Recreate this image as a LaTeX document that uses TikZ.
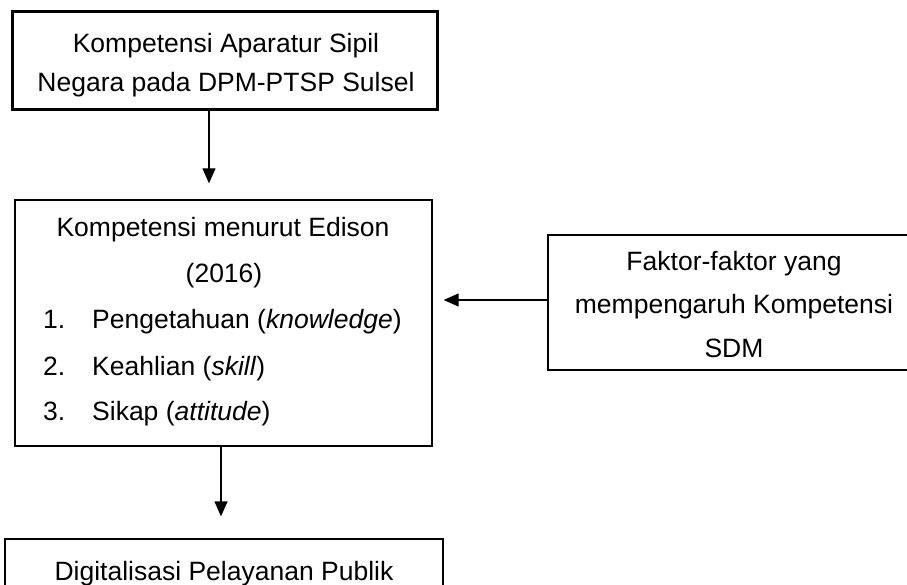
\documentclass[tikz,border=0pt]{standalone}
\usepackage{fontspec}
\setmainfont{Liberation Sans}
\usetikzlibrary{arrows.meta}
\begin{document}
\begin{tikzpicture}[x=1pt,y=-1pt,
  box/.style={draw, rectangle, line width=1.3pt, inner sep=0pt},
  lbl/.style={anchor=base, font=\fontsize{26.5}{30}\selectfont, inner sep=0pt},
  lblw/.style={lbl, anchor=base west},
  arr/.style={line width=1.3pt, -{Triangle[length=15pt,width=13pt]}}]
\clip (0,0) rectangle (907,585);
% boxes
\node[box, line width=3pt, minimum width=425pt, minimum height=98pt] (top) at (224.5,61) {};
\node[box, minimum width=417pt, minimum height=246pt] (mid) at (223.5,323) {};
\node[box, minimum width=377pt, minimum height=135pt] (right) at (736.5,302.5) {};
\node[box, minimum width=438pt, minimum height=71pt] (bot) at (224,574.5) {};
% texts
\node[lbl] (t1) at (226,53) {Kompetensi Aparatur Sipil};
\node[lbl] (t2) at (226,92) {Negara pada DPM-PTSP Sulsel};
\node[lbl] (m1) at (223,237) {Kompetensi menurut Edison};
\node[lbl] (m2) at (224,283) {(2016)};
\node[lblw] (n1) at (43,328) {1.};
\node[lblw] (l1) at (92,328) {Pengetahuan (\textit{knowledge})};
\node[lblw] (n2) at (43,375) {2.};
\node[lblw] (l2) at (92,375) {Keahlian (\textit{skill})};
\node[lblw] (n3) at (43,420) {3.};
\node[lblw] (l3) at (92,420) {Sikap (\textit{attitude})};
\node[lbl] (r1) at (734,270) {Faktor-faktor yang};
\node[lbl] (r2) at (734,313) {mempengaruh Kompetensi};
\node[lbl] (r3) at (734,357) {SDM};
\node[lbl] (b1) at (224,580) {Digitalisasi Pelayanan Publik};
% connectors
\coordinate (c1) at (209,0);
\coordinate (c2) at (0,300);
\coordinate (c3) at (221,0);
\draw[arr, shorten >=16pt] (top.south -| c1) -- (mid.north -| c1);
\draw[arr, shorten >=11pt] (right.west |- c2) -- (mid.east |- c2);
\draw[arr, shorten >=22pt] (mid.south -| c3) -- (bot.north -| c3);
\end{tikzpicture}
\end{document}
